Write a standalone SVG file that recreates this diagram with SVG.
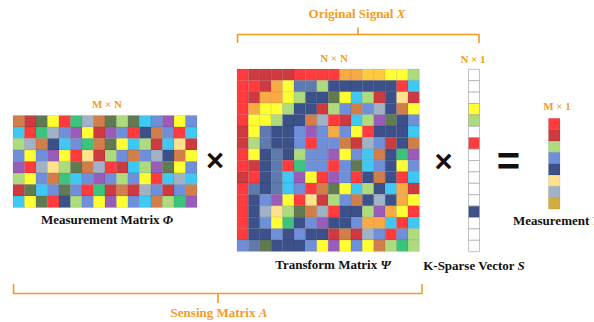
<svg xmlns="http://www.w3.org/2000/svg" width="594" height="322" viewBox="0 0 594 322">
<style>
.cells rect{width:1px;height:1px;stroke:rgba(0,0,0,0.13);stroke-width:0.6px;vector-effect:non-scaling-stroke}
.R{fill:#FF3B3D}.D{fill:#CD3A3F}.O{fill:#D27E4A}.G{fill:#627A52}.Y{fill:#FFFF33}.E{fill:#3DC47C}
.S{fill:#A1B2C7}.L{fill:#AEDB7E}.C{fill:#3EC8F3}.B{fill:#6F8FD9}.P{fill:#9A5CB9}.N{fill:#3C5189}
.F{fill:#FFE28C}.A{fill:#F8AB45}.K{fill:#FFCB3D}.M{fill:#6079AF}.U{fill:#D3AE3F}.W{fill:#FFFFFF}
.sparse rect{stroke:#9A9A9A}
.lbl{font-family:"Liberation Serif",serif;font-weight:bold;font-size:13px;fill:#111;text-anchor:middle}
.dim{font-family:"Liberation Serif",serif;font-weight:bold;font-size:11px;fill:#F59B23;text-anchor:middle}
.brt{font-family:"Liberation Serif",serif;font-weight:bold;font-size:13px;fill:#F59B23;text-anchor:middle}
.br{fill:none;stroke:#F59B23;stroke-width:1.6;stroke-linejoin:round}
.op{font-family:"Liberation Sans",sans-serif;font-weight:bold;fill:#111;text-anchor:middle}
</style>

<g id="measurement-matrix">
<g class="cells" transform="translate(13,115.5) scale(11.5)">
<rect class="O" x="0" y="0"/><rect class="D" x="1" y="0"/><rect class="G" x="2" y="0"/><rect class="Y" x="3" y="0"/><rect class="R" x="4" y="0"/><rect class="E" x="5" y="0"/><rect class="S" x="6" y="0"/><rect class="O" x="7" y="0"/><rect class="G" x="8" y="0"/><rect class="L" x="9" y="0"/><rect class="G" x="10" y="0"/><rect class="C" x="11" y="0"/><rect class="B" x="12" y="0"/><rect class="P" x="13" y="0"/><rect class="Y" x="14" y="0"/><rect class="B" x="15" y="0"/>
<rect class="C" x="0" y="1"/><rect class="R" x="1" y="1"/><rect class="E" x="2" y="1"/><rect class="S" x="3" y="1"/><rect class="B" x="4" y="1"/><rect class="P" x="5" y="1"/><rect class="Y" x="6" y="1"/><rect class="D" x="7" y="1"/><rect class="P" x="8" y="1"/><rect class="B" x="9" y="1"/><rect class="R" x="10" y="1"/><rect class="N" x="11" y="1"/><rect class="O" x="12" y="1"/><rect class="B" x="13" y="1"/><rect class="R" x="14" y="1"/><rect class="C" x="15" y="1"/>
<rect class="L" x="0" y="2"/><rect class="S" x="1" y="2"/><rect class="O" x="2" y="2"/><rect class="N" x="3" y="2"/><rect class="C" x="4" y="2"/><rect class="B" x="5" y="2"/><rect class="E" x="6" y="2"/><rect class="O" x="7" y="2"/><rect class="G" x="8" y="2"/><rect class="Y" x="9" y="2"/><rect class="C" x="10" y="2"/><rect class="L" x="11" y="2"/><rect class="D" x="12" y="2"/><rect class="C" x="13" y="2"/><rect class="F" x="14" y="2"/><rect class="D" x="15" y="2"/>
<rect class="B" x="0" y="3"/><rect class="Y" x="1" y="3"/><rect class="B" x="2" y="3"/><rect class="P" x="3" y="3"/><rect class="Y" x="4" y="3"/><rect class="R" x="5" y="3"/><rect class="F" x="6" y="3"/><rect class="D" x="7" y="3"/><rect class="L" x="8" y="3"/><rect class="B" x="9" y="3"/><rect class="O" x="10" y="3"/><rect class="B" x="11" y="3"/><rect class="S" x="12" y="3"/><rect class="N" x="13" y="3"/><rect class="O" x="14" y="3"/><rect class="Y" x="15" y="3"/>
<rect class="P" x="0" y="4"/><rect class="R" x="1" y="4"/><rect class="S" x="2" y="4"/><rect class="F" x="3" y="4"/><rect class="L" x="4" y="4"/><rect class="G" x="5" y="4"/><rect class="O" x="6" y="4"/><rect class="S" x="7" y="4"/><rect class="R" x="8" y="4"/><rect class="D" x="9" y="4"/><rect class="C" x="10" y="4"/><rect class="L" x="11" y="4"/><rect class="P" x="12" y="4"/><rect class="G" x="13" y="4"/><rect class="Y" x="14" y="4"/><rect class="B" x="15" y="4"/>
<rect class="L" x="0" y="5"/><rect class="Y" x="1" y="5"/><rect class="B" x="2" y="5"/><rect class="O" x="3" y="5"/><rect class="E" x="4" y="5"/><rect class="C" x="5" y="5"/><rect class="B" x="6" y="5"/><rect class="P" x="7" y="5"/><rect class="B" x="8" y="5"/><rect class="L" x="9" y="5"/><rect class="B" x="10" y="5"/><rect class="Y" x="11" y="5"/><rect class="R" x="12" y="5"/><rect class="C" x="13" y="5"/><rect class="S" x="14" y="5"/><rect class="C" x="15" y="5"/>
<rect class="D" x="0" y="6"/><rect class="G" x="1" y="6"/><rect class="C" x="2" y="6"/><rect class="B" x="3" y="6"/><rect class="G" x="4" y="6"/><rect class="B" x="5" y="6"/><rect class="R" x="6" y="6"/><rect class="E" x="7" y="6"/><rect class="D" x="8" y="6"/><rect class="O" x="9" y="6"/><rect class="D" x="10" y="6"/><rect class="S" x="11" y="6"/><rect class="B" x="12" y="6"/><rect class="D" x="13" y="6"/><rect class="B" x="14" y="6"/><rect class="O" x="15" y="6"/>
<rect class="C" x="0" y="7"/><rect class="Y" x="1" y="7"/><rect class="G" x="2" y="7"/><rect class="R" x="3" y="7"/><rect class="N" x="4" y="7"/><rect class="L" x="5" y="7"/><rect class="B" x="6" y="7"/><rect class="Y" x="7" y="7"/><rect class="P" x="8" y="7"/><rect class="Y" x="9" y="7"/><rect class="B" x="10" y="7"/><rect class="C" x="11" y="7"/><rect class="O" x="12" y="7"/><rect class="L" x="13" y="7"/><rect class="E" x="14" y="7"/><rect class="P" x="15" y="7"/>
</g>
<text class="dim" x="107" y="107.5">M × N</text>
<text class="lbl" x="107" y="223.5">Measurement Matrix <tspan font-style="italic">Φ</tspan></text>
</g>

<g id="transform-matrix">
<g class="cells" transform="translate(237,69) scale(11.4)">
<rect class="R" x="0" y="0"/><rect class="D" x="1" y="0"/><rect class="D" x="2" y="0"/><rect class="D" x="3" y="0"/><rect class="D" x="4" y="0"/><rect class="R" x="5" y="0"/><rect class="R" x="6" y="0"/><rect class="R" x="7" y="0"/><rect class="R" x="8" y="0"/><rect class="A" x="9" y="0"/><rect class="A" x="10" y="0"/><rect class="K" x="11" y="0"/><rect class="K" x="12" y="0"/><rect class="Y" x="13" y="0"/><rect class="Y" x="14" y="0"/><rect class="L" x="15" y="0"/>
<rect class="R" x="0" y="1"/><rect class="R" x="1" y="1"/><rect class="D" x="2" y="1"/><rect class="A" x="3" y="1"/><rect class="Y" x="4" y="1"/><rect class="M" x="5" y="1"/><rect class="M" x="6" y="1"/><rect class="L" x="7" y="1"/><rect class="N" x="8" y="1"/><rect class="N" x="9" y="1"/><rect class="N" x="10" y="1"/><rect class="N" x="11" y="1"/><rect class="N" x="12" y="1"/><rect class="N" x="13" y="1"/><rect class="R" x="14" y="1"/><rect class="C" x="15" y="1"/>
<rect class="R" x="0" y="2"/><rect class="D" x="1" y="2"/><rect class="A" x="2" y="2"/><rect class="A" x="3" y="2"/><rect class="Y" x="4" y="2"/><rect class="L" x="5" y="2"/><rect class="N" x="6" y="2"/><rect class="N" x="7" y="2"/><rect class="G" x="8" y="2"/><rect class="Y" x="9" y="2"/><rect class="C" x="10" y="2"/><rect class="L" x="11" y="2"/><rect class="D" x="12" y="2"/><rect class="N" x="13" y="2"/><rect class="F" x="14" y="2"/><rect class="D" x="15" y="2"/>
<rect class="R" x="0" y="3"/><rect class="A" x="1" y="3"/><rect class="Y" x="2" y="3"/><rect class="Y" x="3" y="3"/><rect class="L" x="4" y="3"/><rect class="N" x="5" y="3"/><rect class="N" x="6" y="3"/><rect class="D" x="7" y="3"/><rect class="L" x="8" y="3"/><rect class="B" x="9" y="3"/><rect class="O" x="10" y="3"/><rect class="B" x="11" y="3"/><rect class="S" x="12" y="3"/><rect class="N" x="13" y="3"/><rect class="O" x="14" y="3"/><rect class="Y" x="15" y="3"/>
<rect class="R" x="0" y="4"/><rect class="Y" x="1" y="4"/><rect class="Y" x="2" y="4"/><rect class="L" x="3" y="4"/><rect class="N" x="4" y="4"/><rect class="N" x="5" y="4"/><rect class="O" x="6" y="4"/><rect class="S" x="7" y="4"/><rect class="R" x="8" y="4"/><rect class="D" x="9" y="4"/><rect class="C" x="10" y="4"/><rect class="L" x="11" y="4"/><rect class="P" x="12" y="4"/><rect class="G" x="13" y="4"/><rect class="N" x="14" y="4"/><rect class="B" x="15" y="4"/>
<rect class="D" x="0" y="5"/><rect class="Y" x="1" y="5"/><rect class="M" x="2" y="5"/><rect class="N" x="3" y="5"/><rect class="N" x="4" y="5"/><rect class="B" x="5" y="5"/><rect class="P" x="6" y="5"/><rect class="B" x="7" y="5"/><rect class="A" x="8" y="5"/><rect class="B" x="9" y="5"/><rect class="Y" x="10" y="5"/><rect class="R" x="11" y="5"/><rect class="N" x="12" y="5"/><rect class="N" x="13" y="5"/><rect class="N" x="14" y="5"/><rect class="C" x="15" y="5"/>
<rect class="D" x="0" y="6"/><rect class="L" x="1" y="6"/><rect class="M" x="2" y="6"/><rect class="N" x="3" y="6"/><rect class="N" x="4" y="6"/><rect class="B" x="5" y="6"/><rect class="R" x="6" y="6"/><rect class="B" x="7" y="6"/><rect class="B" x="8" y="6"/><rect class="O" x="9" y="6"/><rect class="D" x="10" y="6"/><rect class="S" x="11" y="6"/><rect class="B" x="12" y="6"/><rect class="D" x="13" y="6"/><rect class="N" x="14" y="6"/><rect class="O" x="15" y="6"/>
<rect class="R" x="0" y="7"/><rect class="Y" x="1" y="7"/><rect class="N" x="2" y="7"/><rect class="M" x="3" y="7"/><rect class="N" x="4" y="7"/><rect class="L" x="5" y="7"/><rect class="B" x="6" y="7"/><rect class="B" x="7" y="7"/><rect class="P" x="8" y="7"/><rect class="Y" x="9" y="7"/><rect class="B" x="10" y="7"/><rect class="C" x="11" y="7"/><rect class="O" x="12" y="7"/><rect class="N" x="13" y="7"/><rect class="E" x="14" y="7"/><rect class="P" x="15" y="7"/>
<rect class="R" x="0" y="8"/><rect class="D" x="1" y="8"/><rect class="N" x="2" y="8"/><rect class="M" x="3" y="8"/><rect class="R" x="4" y="8"/><rect class="E" x="5" y="8"/><rect class="B" x="6" y="8"/><rect class="B" x="7" y="8"/><rect class="R" x="8" y="8"/><rect class="B" x="9" y="8"/><rect class="G" x="10" y="8"/><rect class="C" x="11" y="8"/><rect class="B" x="12" y="8"/><rect class="N" x="13" y="8"/><rect class="Y" x="14" y="8"/><rect class="B" x="15" y="8"/>
<rect class="D" x="0" y="9"/><rect class="R" x="1" y="9"/><rect class="N" x="2" y="9"/><rect class="M" x="3" y="9"/><rect class="C" x="4" y="9"/><rect class="P" x="5" y="9"/><rect class="Y" x="6" y="9"/><rect class="R" x="7" y="9"/><rect class="P" x="8" y="9"/><rect class="B" x="9" y="9"/><rect class="R" x="10" y="9"/><rect class="N" x="11" y="9"/><rect class="O" x="12" y="9"/><rect class="N" x="13" y="9"/><rect class="R" x="14" y="9"/><rect class="C" x="15" y="9"/>
<rect class="R" x="0" y="10"/><rect class="M" x="1" y="10"/><rect class="N" x="2" y="10"/><rect class="M" x="3" y="10"/><rect class="C" x="4" y="10"/><rect class="B" x="5" y="10"/><rect class="R" x="6" y="10"/><rect class="O" x="7" y="10"/><rect class="G" x="8" y="10"/><rect class="Y" x="9" y="10"/><rect class="C" x="10" y="10"/><rect class="L" x="11" y="10"/><rect class="N" x="12" y="10"/><rect class="C" x="13" y="10"/><rect class="A" x="14" y="10"/><rect class="D" x="15" y="10"/>
<rect class="R" x="0" y="11"/><rect class="N" x="1" y="11"/><rect class="B" x="2" y="11"/><rect class="P" x="3" y="11"/><rect class="Y" x="4" y="11"/><rect class="R" x="5" y="11"/><rect class="F" x="6" y="11"/><rect class="D" x="7" y="11"/><rect class="L" x="8" y="11"/><rect class="B" x="9" y="11"/><rect class="O" x="10" y="11"/><rect class="N" x="11" y="11"/><rect class="S" x="12" y="11"/><rect class="N" x="13" y="11"/><rect class="A" x="14" y="11"/><rect class="Y" x="15" y="11"/>
<rect class="R" x="0" y="12"/><rect class="N" x="1" y="12"/><rect class="S" x="2" y="12"/><rect class="F" x="3" y="12"/><rect class="L" x="4" y="12"/><rect class="G" x="5" y="12"/><rect class="O" x="6" y="12"/><rect class="S" x="7" y="12"/><rect class="R" x="8" y="12"/><rect class="N" x="9" y="12"/><rect class="N" x="10" y="12"/><rect class="L" x="11" y="12"/><rect class="P" x="12" y="12"/><rect class="A" x="13" y="12"/><rect class="Y" x="14" y="12"/><rect class="R" x="15" y="12"/>
<rect class="R" x="0" y="13"/><rect class="N" x="1" y="13"/><rect class="B" x="2" y="13"/><rect class="Y" x="3" y="13"/><rect class="E" x="4" y="13"/><rect class="N" x="5" y="13"/><rect class="B" x="6" y="13"/><rect class="P" x="7" y="13"/><rect class="N" x="8" y="13"/><rect class="N" x="9" y="13"/><rect class="B" x="10" y="13"/><rect class="A" x="11" y="13"/><rect class="A" x="12" y="13"/><rect class="C" x="13" y="13"/><rect class="R" x="14" y="13"/><rect class="C" x="15" y="13"/>
<rect class="R" x="0" y="14"/><rect class="N" x="1" y="14"/><rect class="N" x="2" y="14"/><rect class="B" x="3" y="14"/><rect class="N" x="4" y="14"/><rect class="B" x="5" y="14"/><rect class="N" x="6" y="14"/><rect class="N" x="7" y="14"/><rect class="D" x="8" y="14"/><rect class="O" x="9" y="14"/><rect class="D" x="10" y="14"/><rect class="S" x="11" y="14"/><rect class="B" x="12" y="14"/><rect class="R" x="13" y="14"/><rect class="B" x="14" y="14"/><rect class="L" x="15" y="14"/>
<rect class="B" x="0" y="15"/><rect class="M" x="1" y="15"/><rect class="G" x="2" y="15"/><rect class="N" x="3" y="15"/><rect class="N" x="4" y="15"/><rect class="N" x="5" y="15"/><rect class="B" x="6" y="15"/><rect class="Y" x="7" y="15"/><rect class="P" x="8" y="15"/><rect class="Y" x="9" y="15"/><rect class="B" x="10" y="15"/><rect class="Y" x="11" y="15"/><rect class="O" x="12" y="15"/><rect class="L" x="13" y="15"/><rect class="E" x="14" y="15"/><rect class="L" x="15" y="15"/>
</g>
<text class="dim" x="334" y="62">N × N</text>
<text class="lbl" x="333" y="269">Transform Matrix <tspan font-style="italic">Ψ</tspan></text>
</g>

<g id="sparse-vector">
<g class="cells sparse" transform="translate(468.5,69.3) scale(11,11.4)">
<rect class="W" x="0" y="0"/><rect class="W" x="0" y="1"/><rect class="W" x="0" y="2"/><rect class="Y" x="0" y="3"/><rect class="L" x="0" y="4"/><rect class="W" x="0" y="5"/><rect class="R" x="0" y="6"/><rect class="W" x="0" y="7"/><rect class="W" x="0" y="8"/><rect class="W" x="0" y="9"/><rect class="W" x="0" y="10"/><rect class="W" x="0" y="11"/><rect class="N" x="0" y="12"/><rect class="W" x="0" y="13"/><rect class="W" x="0" y="14"/><rect class="W" x="0" y="15"/>
</g>
<text class="dim" x="473" y="63">N × 1</text>
<text class="lbl" x="474" y="269.5">K-Sparse Vector <tspan font-style="italic">S</tspan></text>
</g>

<g id="measurement-vector">
<g class="cells" transform="translate(548.5,118.3) scale(11.5,11.35)">
<rect class="R" x="0" y="0"/><rect class="D" x="0" y="1"/><rect class="L" x="0" y="2"/><rect class="B" x="0" y="3"/><rect class="N" x="0" y="4"/><rect class="F" x="0" y="5"/><rect class="S" x="0" y="6"/><rect class="U" x="0" y="7"/>
</g>
<text class="dim" x="557" y="110">M × 1</text>
<text class="lbl" x="513" y="225" style="text-anchor:start">Measurement <tspan font-style="italic">Y</tspan></text>
</g>

<g id="operators">
<text class="op" x="215" y="171" font-size="31">×</text>
<text class="op" x="443.5" y="171.5" font-size="31">×</text>
<text class="op" x="508.5" y="175" font-size="40">=</text>
</g>

<g id="original-signal">
<path class="br" d="M237.5,43 V34.5 H479 V43 M358,34.5 V27.5"/>
<text class="brt" x="357" y="18">Original Signal <tspan font-style="italic">X</tspan></text>
</g>

<g id="sensing-matrix">
<path class="br" d="M13.5,284 V293.5 H422 V284 M218,293.5 V303"/>
<text class="brt" x="219" y="317">Sensing Matrix <tspan font-style="italic">A</tspan></text>
</g>
</svg>
